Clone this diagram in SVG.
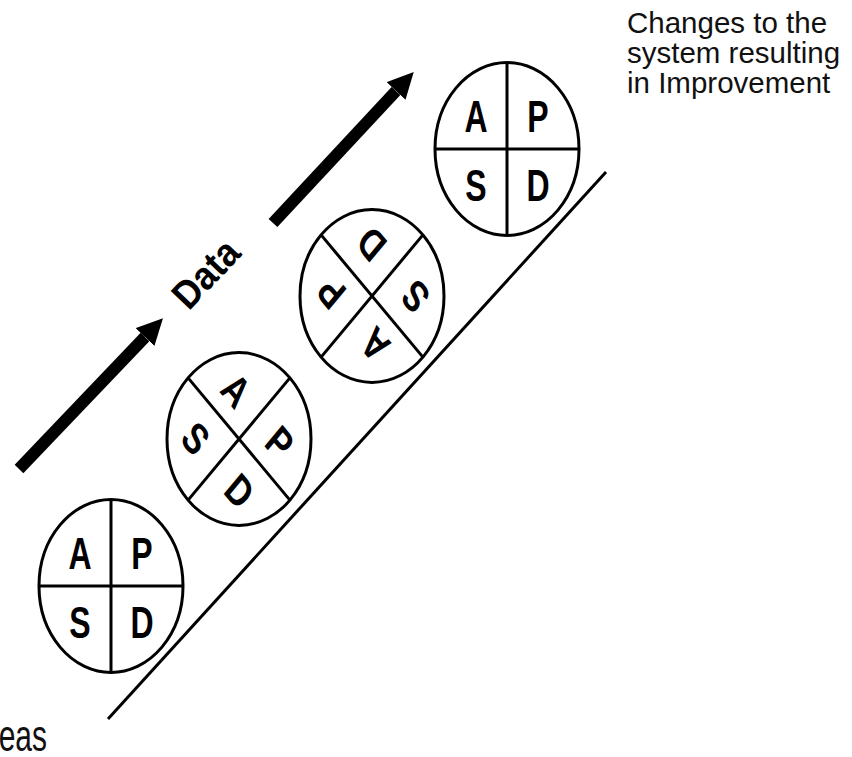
<svg xmlns="http://www.w3.org/2000/svg" width="852" height="757" viewBox="0 0 852 757">
<style>
.c{fill:#fff;stroke:#000;stroke-width:3;vector-effect:non-scaling-stroke}
.x{stroke:#000;stroke-width:3;vector-effect:non-scaling-stroke}
.l{font-family:"Liberation Sans",Arial,sans-serif;font-weight:bold;font-size:32px;text-anchor:middle;fill:#000}
.t{font-family:"Liberation Sans",Arial,sans-serif;font-size:29.5px;fill:#111}
.d{font-family:"Liberation Sans",Arial,sans-serif;font-weight:bold;font-size:36px;text-anchor:middle;fill:#000}
</style>
<defs>
<marker id="ah" markerWidth="26" markerHeight="26" refX="0" refY="13" orient="auto" markerUnits="userSpaceOnUse">
<path d="M0,0 L26,13 L0,26 z" fill="#000"/>
</marker>
<g id="quad">
<circle class="c" r="72"/>
<line class="x" x1="-72" y1="0" x2="72" y2="0"/>
<line class="x" x1="0" y1="-72" x2="0" y2="72"/>
<g transform="translate(-31,-27)"><text class="l" transform="scale(1,1.15)" y="11.5">A</text></g>
<g transform="translate(31,-27)"><text class="l" transform="scale(1,1.15)" y="11.5">P</text></g>
<g transform="translate(-31,30)"><text class="l" transform="scale(1,1.15)" y="11.5">S</text></g>
<g transform="translate(31,30)"><text class="l" transform="scale(1,1.15)" y="11.5">D</text></g>
</g>
</defs>
<rect width="852" height="757" fill="#fff"/>
<g id="connectors">
<line x1="108" y1="719" x2="606" y2="172" stroke="#000" stroke-width="3"/>
<line x1="19" y1="469" x2="145" y2="337" stroke="#000" stroke-width="12" marker-end="url(#ah)"/>
<line x1="273" y1="223" x2="396" y2="91" stroke="#000" stroke-width="12" marker-end="url(#ah)"/>
</g>
<g id="pdsa1" transform="translate(111,586) scale(1,1.2)"><use href="#quad"/></g>
<g id="pdsa2" transform="translate(239,439) scale(1,1.2)"><g transform="rotate(45)"><use href="#quad"/></g></g>
<g id="pdsa3" transform="translate(372,296) scale(1,1.2)"><g transform="rotate(225)"><use href="#quad"/></g></g>
<g id="pdsa4" transform="translate(507,149) scale(1,1.2)"><use href="#quad"/></g>
<g id="data-label" transform="translate(206,274) rotate(-46.5)"><text class="d" transform="scale(1,1.1)" y="12">Data</text></g>
<g id="changes-label">
<text class="t" x="627" y="33">Changes to the</text>
<text class="t" x="627" y="63">system resulting</text>
<text class="t" x="627" y="93">in Improvement</text>
</g>
<g id="ideas-label"><text class="t" style="font-size:30px;text-anchor:end" transform="translate(47,751) scale(1,1.5)">eas</text></g>
</svg>
